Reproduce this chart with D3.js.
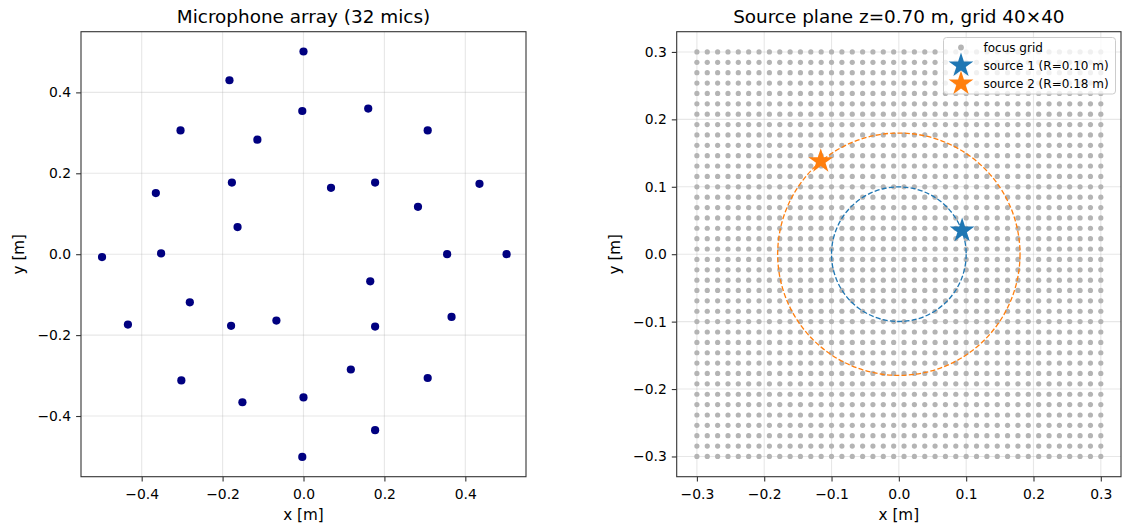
<!DOCTYPE html>
<html><head><meta charset="utf-8">
<script src="https://cdn.jsdelivr.net/npm/d3@7"></script>
<style>
body{margin:0;background:#fff}
text{font-family:"DejaVu Sans",sans-serif;fill:#000}
</style>
</head><body><svg id="c" width="1122" height="525"></svg>
<script>
// ---- data ----
const micX = [0.000,-0.183,-0.304,-0.114,-0.003,0.160,0.307,-0.365,-0.177,0.068,0.177,0.283,0.435,-0.163,-0.498,-0.352,0.355,0.502,
              0.165,-0.281,-0.434,-0.179,-0.067,0.177,0.366,-0.302,0.117,0.307,-0.151,0.000,0.177,-0.003];
const micY = [0.501,0.430,0.306,0.283,0.354,0.360,0.306,0.151,0.177,0.164,0.177,0.117,0.174,0.067,-0.007,0.002,0.000,0.000,
              -0.067,-0.119,-0.174,-0.177,-0.164,-0.179,-0.155,-0.312,-0.285,-0.306,-0.366,-0.354,-0.435,-0.501];
const gridCoords = [-0.3000,-0.2846,-0.2692,-0.2538,-0.2385,-0.2231,-0.2077,-0.1923,-0.1769,-0.1615,
                    -0.1462,-0.1308,-0.1154,-0.1000,-0.0846,-0.0692,-0.0538,-0.0385,-0.0231,-0.0077,
                     0.0077, 0.0231, 0.0385, 0.0538, 0.0692, 0.0846, 0.1000, 0.1154, 0.1308, 0.1462,
                     0.1615, 0.1769, 0.1923, 0.2077, 0.2231, 0.2385, 0.2538, 0.2692, 0.2846, 0.3000];
const sourceNames = ["source 1 (R=0.10 m)","source 2 (R=0.18 m)"];
const sourceX = [0.094,-0.116];
const sourceY = [0.035,0.138];
const sourceR = [0.10,0.18];
const sourceColors = ["#1f77b4","#ff7f0e"];
const leftTicks = [-0.4,-0.2,0.0,0.2,0.4];
const rightTicks = [-0.3,-0.2,-0.1,0.0,0.1,0.2,0.3];
const titles = ["Microphone array (32 mics)","Source plane z=0.70 m, grid 40\u00d740"];
const gridLegendLabel = "focus grid";

const svg = d3.select("#c");
const fmt = d3.format(".1f");
const FS = 13.9;

function panel(xDom, yDom, xRange, yRange, ticks, title) {
  const x = d3.scaleLinear().domain(xDom).range(xRange);
  const y = d3.scaleLinear().domain(yDom).range(yRange);
  const g = svg.append("g");
  // grid
  g.append("g").selectAll("line").data(ticks).join("line")
    .attr("x1", d => x(d)).attr("x2", d => x(d)).attr("y1", yRange[0]).attr("y2", yRange[1])
    .attr("stroke", "#b0b0b0").attr("stroke-opacity", 0.3).attr("stroke-width", 1.1);
  g.append("g").selectAll("line").data(ticks).join("line")
    .attr("y1", d => y(d)).attr("y2", d => y(d)).attr("x1", xRange[0]).attr("x2", xRange[1])
    .attr("stroke", "#b0b0b0").attr("stroke-opacity", 0.3).attr("stroke-width", 1.1);
  // axes
  const ax = g.append("g").attr("transform", `translate(0,${yRange[0]})`)
    .call(d3.axisBottom(x).tickValues(ticks).tickFormat(fmt).tickSize(4.9).tickPadding(7.5));
  const ay = g.append("g").attr("transform", `translate(${xRange[0]},0)`)
    .call(d3.axisLeft(y).tickValues(ticks).tickFormat(fmt).tickSize(4.9).tickPadding(5));
  [ax, ay].forEach(a => {
    a.select(".domain").remove();
    a.selectAll("line").attr("stroke", "#333").attr("stroke-width", 1.1);
    a.selectAll("text").attr("font-size", FS).attr("font-family", "DejaVu Sans").attr("fill", "#000");
  });
  // labels
  const cx = (xRange[0] + xRange[1]) / 2, cy = (yRange[0] + yRange[1]) / 2;
  svg.append("text").attr("x", cx).attr("y", 519.5).attr("text-anchor", "middle").attr("font-size", 15.2).text("x [m]");
  svg.append("text").attr("transform", `translate(${xRange[0] - 57},${cy}) rotate(-90)`)
    .attr("text-anchor", "middle").attr("font-size", 15.2).text("y [m]");
  svg.append("text").attr("x", cx).attr("y", 22.7).attr("text-anchor", "middle").attr("font-size", 18.4).text(title);
  return {x, y, g, xRange, yRange};
}

function frame(p) {
  svg.append("rect").attr("x", p.xRange[0]).attr("y", p.yRange[1])
    .attr("width", p.xRange[1] - p.xRange[0]).attr("height", p.yRange[0] - p.yRange[1])
    .attr("fill", "none").attr("stroke", "#333").attr("stroke-width", 1.1);
}

// ---- left panel ----
const L = panel([-0.55, 0.55], [-0.55, 0.55], [81, 526], [476.7, 31.7], leftTicks, titles[0]);
L.g.append("g").selectAll("circle").data(micX.map((v, i) => [v, micY[i]])).join("circle")
  .attr("cx", d => L.x(d[0])).attr("cy", d => L.y(d[1])).attr("r", 4.1).attr("fill", "#000080");
frame(L);

// ---- right panel ----
const R = panel([-0.33, 0.33], [-0.33, 0.33], [676.7, 1121], [476.7, 31.7], rightTicks, titles[1]);
const pts = [];
gridCoords.forEach(gy => gridCoords.forEach(gx => pts.push([gx, gy])));
R.g.append("g").selectAll("circle").data(pts).join("circle")
  .attr("cx", d => R.x(d[0])).attr("cy", d => R.y(d[1])).attr("r", 2.6).attr("fill", "#b4b4b4");
// dashed radius circles
R.g.append("g").selectAll("circle").data(sourceR).join("circle")
  .attr("cx", R.x(0)).attr("cy", R.y(0)).attr("r", d => R.x(d) - R.x(0))
  .attr("fill", "none").attr("stroke", (d, i) => sourceColors[i]).attr("stroke-width", 1.3)
  .attr("stroke-dasharray", "5.1,2.2");
const star = d3.symbol(d3.symbolStar, 190);
R.g.append("g").selectAll("path").data(sourceX).join("path")
  .attr("d", star).attr("fill", (d, i) => sourceColors[i])
  .attr("transform", (d, i) => `translate(${R.x(d)},${R.y(sourceY[i])})`);
frame(R);

// legend
const lg = svg.append("g");
lg.append("rect").attr("x", 943.5).attr("y", 37.5).attr("width", 172).attr("height", 56.5).attr("rx", 3)
  .attr("fill", "#fff").attr("fill-opacity", 0.8).attr("stroke", "#cccccc").attr("stroke-width", 1);
lg.append("circle").attr("cx", 961).attr("cy", 47.5).attr("r", 2.9).attr("fill", "#b4b4b4");
lg.append("text").attr("x", 983.5).attr("y", 51.5).attr("font-size", 12).text(gridLegendLabel);
sourceNames.forEach((n, i) => {
  const yy = 65.5 + i * 18;
  lg.append("path").attr("d", star).attr("fill", sourceColors[i]).attr("transform", `translate(961,${yy})`);
  lg.append("text").attr("x", 983.5).attr("y", yy + 4.2).attr("font-size", 12).text(n);
});
</script></body></html>
